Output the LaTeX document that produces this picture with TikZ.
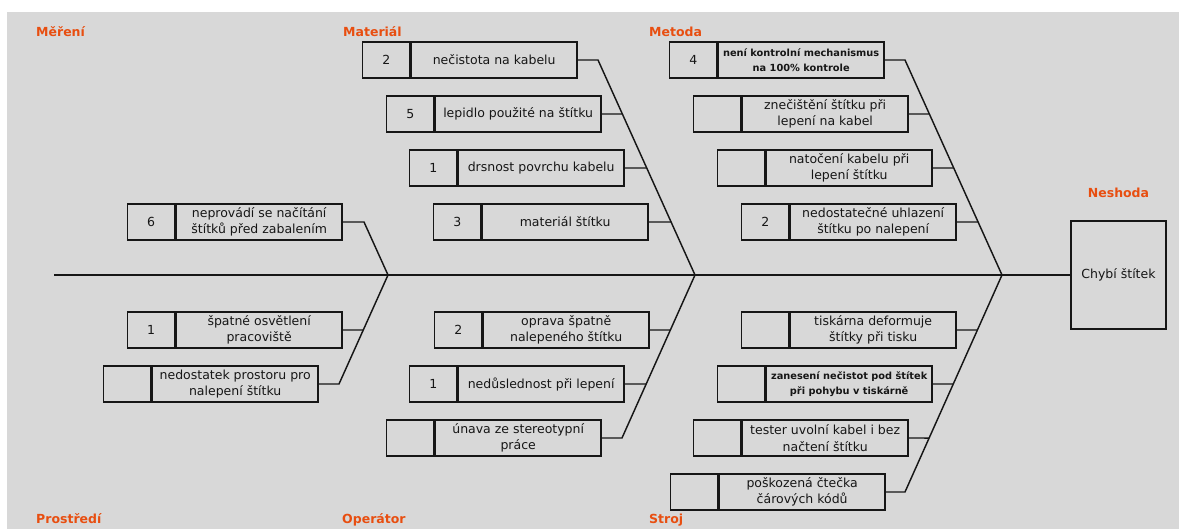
\documentclass[tikz,border=0pt]{standalone}
\usepackage{fontspec}
\setmainfont{DejaVu Sans}
\usetikzlibrary{calc}

\definecolor{bggray}{RGB}{216,216,216}
\definecolor{ink}{RGB}{22,22,22}
\definecolor{catcol}{RGB}{232,78,16}

\tikzset{
  cell/.style={draw=ink, line width=1.45pt, minimum height=36pt, inner sep=0pt,
    align=center, text=ink, font=\fontsize{12.5}{16.5}\selectfont},
  numcell/.style={cell, minimum width=47pt},
  txtcell/.style={cell, minimum width=166pt},
  smalltext/.style={font=\bfseries\fontsize{9.8}{14.5}\selectfont},
  catlabel/.style={text=catcol, font=\bfseries\fontsize{12.5}{15}\selectfont, inner sep=0pt},
  bone/.style={draw=ink, line width=1.45pt},
}

% cause box: [text options]{name}{left x}{centre y}{count}{text}
\newcommand\causebox[6][]{%
  \node[numcell, anchor=west] (#2n) at (#3,#4) {#5};
  \node[txtcell, anchor=west, #1] (#2) at (#2n.east) {#6};
}
% horizontal twig from a box to the diagonal bone #2--#3
\newcommand\twig[3]{%
  \draw[bone] (#1.east) -- (intersection cs: first line={(#2)--(#3)},
    second line={(#1.east)--(#1.east -| #3)});
}

\begin{document}
\begin{tikzpicture}[x=1pt,y=-1pt]
\useasboundingbox (0,0) rectangle (1179,529);
\fill[white] (0,0) rectangle (1179,529);
\fill[bggray] (7,12) rectangle (1179,529);

% category labels
\node[catlabel, anchor=base west] (lmer) at (36,37) {Měření};
\node[catlabel, anchor=base west] (lmat) at (343,37) {Materiál};
\node[catlabel, anchor=base west] (lmet) at (649,37) {Metoda};
\node[catlabel, anchor=base west] (lpro) at (36,523) {Prostředí};
\node[catlabel, anchor=base west] (lope) at (342,523) {Operátor};
\node[catlabel, anchor=base west] (lstr) at (649,523) {Stroj};
\node[catlabel, anchor=base] (lnes) at (1118.5,198) {Neshoda};

% effect
\node[draw=ink, line width=1.45pt, minimum width=95pt, minimum height=108pt,
  inner sep=0pt, text=ink, font=\fontsize{12.5}{15}\selectfont] (eff) at (1118.5,275) {Chybí štítek};

% spine and bone joints
\coordinate (S) at (54,275);
\coordinate (J1) at (388,275);
\coordinate (J2) at (695,275);
\coordinate (J3) at (1002,275);
\coordinate (A1) at (364,222);
\coordinate (B1) at (339,384);
\coordinate (A2) at (598,60);
\coordinate (B2) at (622,438);
\coordinate (A3) at (905,60);
\coordinate (B3) at (905,492);
\draw[bone] (S) -- (eff.west);

% Měření / Prostředí
\causebox{c6}{127}{222}{6}{neprovádí se načítání\\štítků před zabalením}
\causebox{c7}{127}{330}{1}{špatné osvětlení\\pracoviště}
\causebox{c8}{103}{384}{}{nedostatek prostoru pro\\nalepení štítku}

% Materiál
\causebox{m1}{362}{60}{2}{nečistota na kabelu}
\causebox{m2}{386}{114}{5}{lepidlo použité na štítku}
\causebox{m3}{409}{168}{1}{drsnost povrchu kabelu}
\causebox{m4}{433}{222}{3}{materiál štítku}

% Metoda
\causebox[smalltext]{t1}{669}{60}{4}{není kontrolní mechanismus\\na 100\% kontrole}
\causebox{t2}{693}{114}{}{znečištění štítku při\\lepení na kabel}
\causebox{t3}{717}{168}{}{natočení kabelu při\\lepení štítku}
\causebox{t4}{741}{222}{2}{nedostatečné uhlazení\\štítku po nalepení}

% Operátor
\causebox{o1}{434}{330}{2}{oprava špatně\\nalepeného štítku}
\causebox{o2}{409}{384}{1}{nedůslednost při lepení}
\causebox{o3}{386}{438}{}{únava ze stereotypní\\práce}

% Stroj
\causebox{s1}{741}{330}{}{tiskárna deformuje\\štítky při tisku}
\causebox[smalltext]{s2}{717}{384}{}{zanesení nečistot pod štítek\\při pohybu v tiskárně}
\causebox{s3}{693}{438}{}{tester uvolní kabel i bez\\načtení štítku}
\causebox{s4}{670}{492}{}{poškozená čtečka\\čárových kódů}

% bones
\draw[bone] (c6.east) -- (A1) -- (J1);
\draw[bone] (c8.east) -- (B1) -- (J1);
\twig{c7}{B1}{J1}

\draw[bone] (m1.east) -- (A2) -- (J2);
\twig{m2}{A2}{J2}
\twig{m3}{A2}{J2}
\twig{m4}{A2}{J2}

\draw[bone] (o3.east) -- (B2) -- (J2);
\twig{o1}{B2}{J2}
\twig{o2}{B2}{J2}

\draw[bone] (t1.east) -- (A3) -- (J3);
\twig{t2}{A3}{J3}
\twig{t3}{A3}{J3}
\twig{t4}{A3}{J3}

\draw[bone] (s4.east) -- (B3) -- (J3);
\twig{s1}{B3}{J3}
\twig{s2}{B3}{J3}
\twig{s3}{B3}{J3}
\end{tikzpicture}
\end{document}
